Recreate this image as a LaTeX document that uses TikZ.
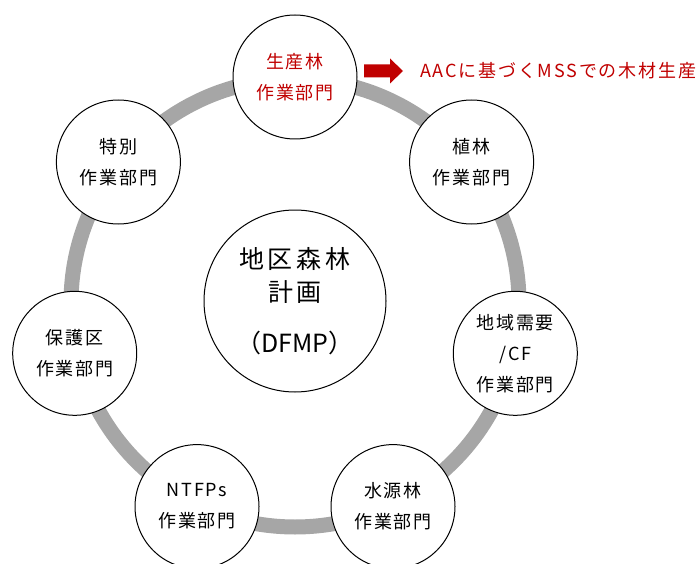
\documentclass[tikz,border=0pt]{standalone}
\usepackage{fontspec}
\setmainfont{Noto Sans CJK JP}
\usetikzlibrary{arrows.meta,calc}
\definecolor{ringgray}{HTML}{A6A6A6}
\definecolor{darkred}{HTML}{C00000}
\begin{document}
\begin{tikzpicture}[x=1pt,y=-1pt,
  dept/.style={circle,draw=black,line width=1pt,fill=white,minimum size=124pt,inner sep=0pt,
    align=center,font=\fontsize{18}{31}\selectfont\addfontfeature{LetterSpace=10}},
  hub/.style={circle,draw=black,line width=1pt,fill=white,minimum size=182pt,inner sep=0pt,
    align=center,font=\fontsize{25}{33}\selectfont}]
\useasboundingbox (0,0) rectangle (698,564);
\begin{scope}
\clip (0,0) rectangle (698,564);
\coordinate (C) at (295,303);
\draw[ringgray,line width=15pt] (C) circle[radius=224];
\node[dept,text=darkred] (prod) at ($(C)+(0,-226)$) {生産林\\作業部門};
\node[dept] (plant) at ($(C)+(176.6,-141)$) {植林\\作業部門};
\node[dept] (local) at ($(C)+(220.3,50.3)$) {地域需要\\/CF\\作業部門};
\node[dept] (water) at ($(C)+(98,203.6)$) {水源林\\作業部門};
\node[dept] (ntfp) at ($(C)+(-98,203.6)$) {NTFPs\\作業部門};
\node[dept] (prot) at ($(C)+(-220.3,50.3)$) {保護区\\作業部門};
\node[dept] (spec) at ($(C)+(-176.6,-141)$) {特別\\作業部門};
\node[hub] (dfmp) at ($(C)+(0,-2)$) {{\addfontfeature{LetterSpace=16}地区森林}\\{\addfontfeature{LetterSpace=16}計画}\\[18pt]（DFMP）};
\node[anchor=west,inner sep=0pt,text=darkred,font=\fontsize{18}{20}\selectfont\addfontfeature{LetterSpace=10}] (aac) at (420,71) {AACに基づくMSSでの木材生産};
\coordinate (as) at (364,71);
\coordinate (ae) at (403,71);
\fill[darkred] (as) ++(0,-6.5) -- ++(26,0) -- ++(0,-6) -- (ae) -- ++(-13,12.5) -- ++(0,-6) -- ++(-26,0) -- cycle;
\end{scope}
\end{tikzpicture}
\end{document}
